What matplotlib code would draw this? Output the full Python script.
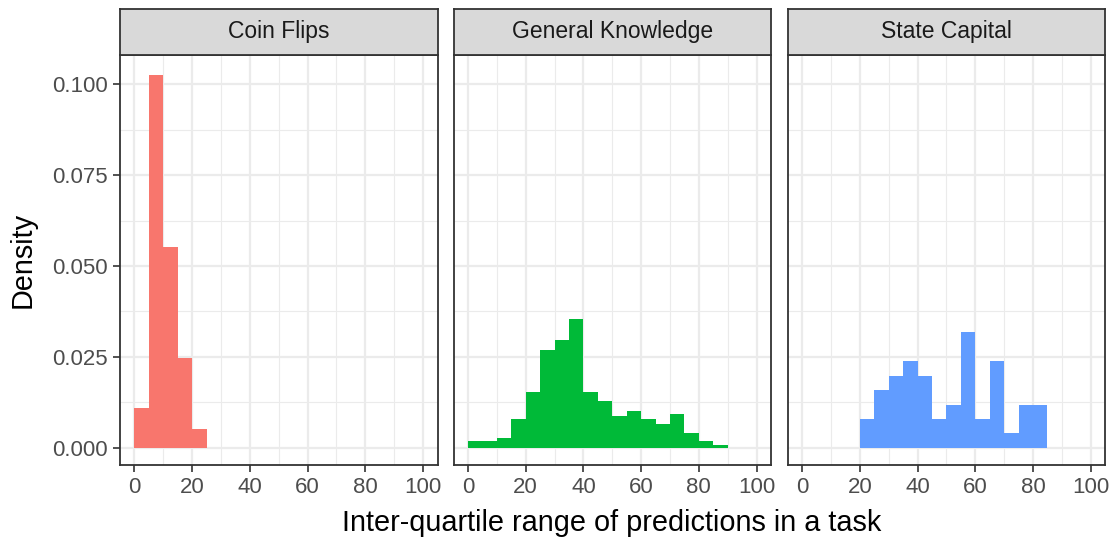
import numpy as np
import matplotlib.pyplot as plt

plt.rcParams['font.family'] = ['Liberation Sans', 'DejaVu Sans']

# histogram densities (binwidth 5, starting at 0)
panels = ['Coin Flips', 'General Knowledge', 'State Capital']
colors = ['#F8766D', '#00BA38', '#619CFF']

coin_start = 0
coin_density = [0.0110, 0.1026, 0.0552, 0.0247, 0.0051]

gk_start = 0
gk_density = [0.0017, 0.0017, 0.0026, 0.0078, 0.0154, 0.0269, 0.0295, 0.0353,
              0.0154, 0.0127, 0.0087, 0.0101, 0.0079, 0.0065, 0.0092, 0.0039,
              0.0017, 0.0008]

sc_start = 20
sc_density = [0.0078, 0.0159, 0.0198, 0.0238, 0.0198, 0.0078, 0.0118, 0.0317,
              0.0078, 0.0238, 0.0039, 0.0118, 0.0118]

data = [(coin_start, coin_density), (gk_start, gk_density), (sc_start, sc_density)]

binwidth = 5
x_ticks = [0, 20, 40, 60, 80, 100]
y_ticks = [0.0, 0.025, 0.05, 0.075, 0.1]
y_labels = ['0.000', '0.025', '0.050', '0.075', '0.100']

W, H = 1117, 541
fig = plt.figure(figsize=(W / 100, H / 100), dpi=100)

lefts = [120, 453.5, 787.7]
pw = 317.5
top, bottom = 55, 465
strip_top = 8.5

dark = '#333333'
grid = '#EBEBEB'

for i, (name, col, (start, dens)) in enumerate(zip(panels, colors, data)):
    ax = fig.add_axes([lefts[i] / W, 1 - bottom / H, pw / W, (bottom - top) / H])
    edges = start + binwidth * np.arange(len(dens))
    ax.bar(edges, dens, width=binwidth, align='edge', color=col, linewidth=0, zorder=2)
    ax.set_xlim(-5, 105)
    ax.set_ylim(-0.0048, 0.1081)
    ax.set_xticks(x_ticks)
    ax.set_xticks([10, 30, 50, 70, 90], minor=True)
    ax.set_yticks(y_ticks)
    ax.set_yticks([0.0125, 0.0375, 0.0625, 0.0875], minor=True)
    ax.grid(which='major', color=grid, linewidth=1.6, zorder=0)
    ax.grid(which='minor', color=grid, linewidth=0.8, zorder=0)
    ax.set_axisbelow(True)
    ax.tick_params(which='minor', length=0)
    ax.tick_params(which='major', length=5, width=1.2, color=dark,
                   labelsize=16, labelcolor='#4D4D4D', pad=3.5)
    if i == 0:
        ax.set_yticklabels(y_labels)
    else:
        ax.set_yticklabels([])
        ax.tick_params(axis='y', length=0)
    for s in ax.spines.values():
        s.set_color(dark)
        s.set_linewidth(1.3)

    sax = fig.add_axes([lefts[i] / W, 1 - top / H, pw / W, (top - strip_top) / H])
    sax.set_facecolor('#D9D9D9')
    sax.set_xticks([])
    sax.set_yticks([])
    for s in sax.spines.values():
        s.set_color(dark)
        s.set_linewidth(1.3)
    sax.text(0.5, 0.5, name, ha='center', va='center', fontsize=16.5,
             color='#1A1A1A', transform=sax.transAxes)

fig.text(612 / W, 1 - 523 / H, 'Inter-quartile range of predictions in a task',
         ha='center', va='center', fontsize=20.8, color='black')
fig.text(23 / W, 1 - 260 / H, 'Density', ha='center', va='center',
         rotation=90, fontsize=20.8, color='black')

fig.savefig('out.png', dpi=100)
